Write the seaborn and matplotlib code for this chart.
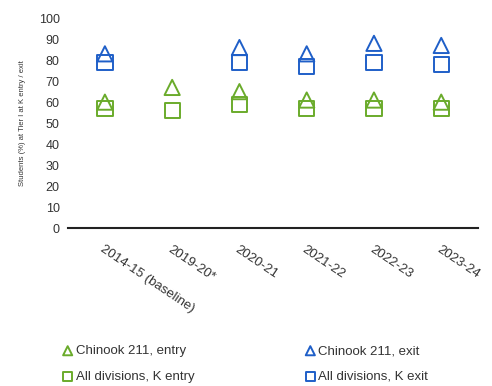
import matplotlib
matplotlib.use("Agg")
import matplotlib.pyplot as plt
import seaborn as sns
import numpy as np
import pandas as pd

years = ["2014-15 (baseline)", "2019-20*", "2020-21", "2021-22", "2022-23", "2023-24"]
chinook_entry = [60, 67, 65, 61, 61, 60]
chinook_exit = [83, np.nan, 86, 83, 88, 87]
all_entry = [57, 56, 59, 57, 57, 57]
all_exit = [79, np.nan, 79, 77, 79, 78]

green = "#6aab2b"
blue = "#1f5fc8"

df = pd.DataFrame({"year": years,
                   "Chinook 211, entry": chinook_entry,
                   "Chinook 211, exit": chinook_exit,
                   "All divisions, K entry": all_entry,
                   "All divisions, K exit": all_exit})
long = df.melt(id_vars="year", var_name="series", value_name="pct").dropna()

sns.set_style("white")
plt.rcParams["font.family"] = ["Liberation Sans", "DejaVu Sans"]

fig = plt.figure(figsize=(4.92, 3.86), dpi=100)
ax = fig.add_axes([0.138, 0.409, 0.834, 0.544])

styles = {"Chinook 211, entry": (green, "^"),
          "Chinook 211, exit": (blue, "^"),
          "All divisions, K entry": (green, "s"),
          "All divisions, K exit": (blue, "s")}
# column-major order so the legend reads row-wise like the original
order = ["Chinook 211, entry", "All divisions, K entry",
         "Chinook 211, exit", "All divisions, K exit"]

for name in order:
    col, mk = styles[name]
    sub = long[long["series"] == name]
    sns.scatterplot(data=sub, x="year", y="pct", ax=ax, marker=mk, s=120,
                    facecolors="none", edgecolor=col, linewidth=1.4,
                    label=name, zorder=3)

handles, labels = ax.get_legend_handles_labels()
ax.legend_.remove()

ax.set_xlim(-0.55, 5.55)
ax.set_ylim(0, 100)
ax.set_yticks(range(0, 101, 10))
ax.set_xlabel("")
ax.set_ylabel("Students (%) at Tier I at K entry / exit", fontsize=5.5, color="#333333", labelpad=9)
ax.tick_params(axis="y", labelsize=9, colors="#333333", length=0, pad=6)
ax.tick_params(axis="x", labelsize=9.5, colors="#333333", length=0, pad=11)
for lab in ax.get_xticklabels():
    lab.set_rotation(-34)
    lab.set_ha("left")
    lab.set_rotation_mode("anchor")

for side in ["left", "right", "top"]:
    ax.spines[side].set_visible(False)
ax.spines["bottom"].set_color("#222222")
ax.spines["bottom"].set_linewidth(1.5)

leg = fig.legend(handles, labels, loc="lower left", bbox_to_anchor=(0.1, -0.022),
                 ncol=2, frameon=False, fontsize=9.5, markerscale=0.6,
                 handletextpad=0.1, columnspacing=8.3, labelspacing=1.0,
                 handlelength=1.0)
for t in leg.get_texts():
    t.set_color("#333333")

fig.savefig("out.png", dpi=100)
